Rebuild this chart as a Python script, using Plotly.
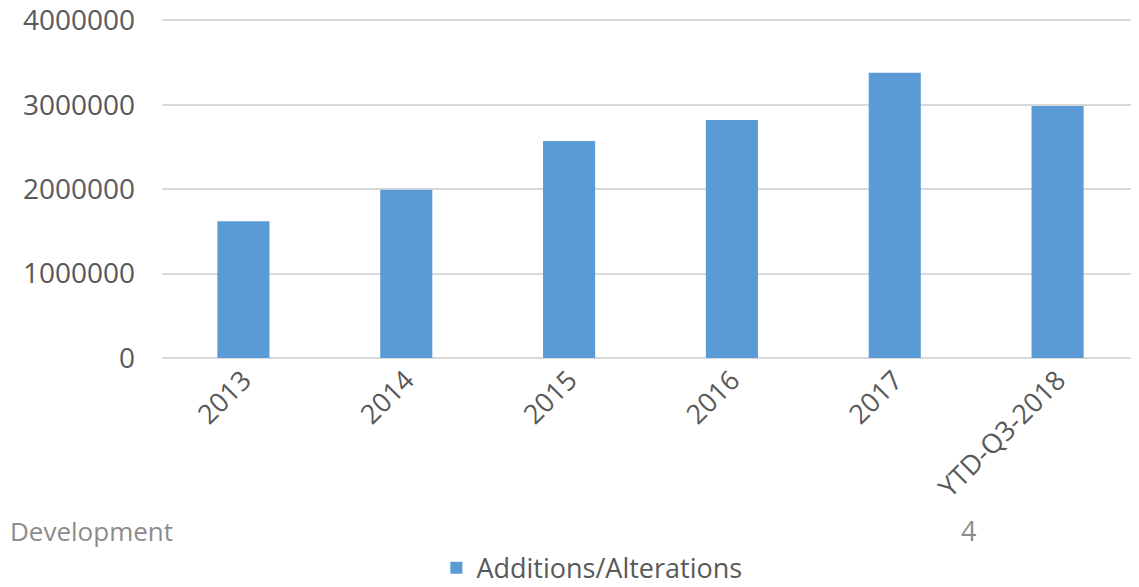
import plotly.graph_objects as go

categories = ["2013", "2014", "2015", "2016", "2017", "YTD-Q3-2018"]
values = [1620000, 1995000, 2570000, 2820000, 3380000, 2985000]
y_ticks = [0, 1000000, 2000000, 3000000, 4000000]
series_name = "Additions/Alterations"

FONT = "Open Sans"
# page has an 8px body margin, so the figure is shifted accordingly
W, H = 1131, 579
L, R, T, B = 154, 0, 3.5, 229
ph = H - T - B

fig = go.Figure()
fig.add_trace(go.Bar(x=categories, y=values, name=series_name,
                     marker=dict(color="#5b9bd5", line=dict(width=0)),
                     width=0.32))

fig.update_layout(
    width=W, height=H,
    margin=dict(l=L, r=R, t=T, b=B, autoexpand=False),
    paper_bgcolor="white", plot_bgcolor="white",
    font=dict(family=FONT, color="#595959", size=27),
    showlegend=True,
    legend=dict(orientation="h", x=0.44, xanchor="center", y=(350 - 585) / ph, yanchor="bottom",
                font=dict(size=27, color="#595959")),
    xaxis=dict(type="category", range=[-0.5, 5.5], tickangle=-45, showgrid=False,
               automargin=False, showline=False, ticks="",
               tickfont=dict(size=27, color="#595959")),
    yaxis=dict(range=[0, 4100000], tickvals=y_ticks, ticktext=[str(v) for v in y_ticks],
               automargin=False, showgrid=True, gridcolor="#d9d9d9", gridwidth=2,
               zeroline=True, zerolinecolor="#d9d9d9", zerolinewidth=2, showline=False,
               ticks="", ticklabelstandoff=26, ticklabeloverflow="allow",
               tickfont=dict(size=28, color="#595959")),
    annotations=[
        dict(text="Development", xref="paper", yref="paper", x=(0 - L) / 977, y=(350 - 523) / ph,
             xanchor="left", yanchor="middle", showarrow=False,
             font=dict(size=26, color="#8c8c8c")),
        dict(text="4", xref="paper", yref="paper", x=(960 - L) / 977, y=(350 - 523) / ph,
             xanchor="center", yanchor="middle", showarrow=False,
             font=dict(size=27, color="#8c8c8c")),
    ],
)
fig.write_html("out.html")
